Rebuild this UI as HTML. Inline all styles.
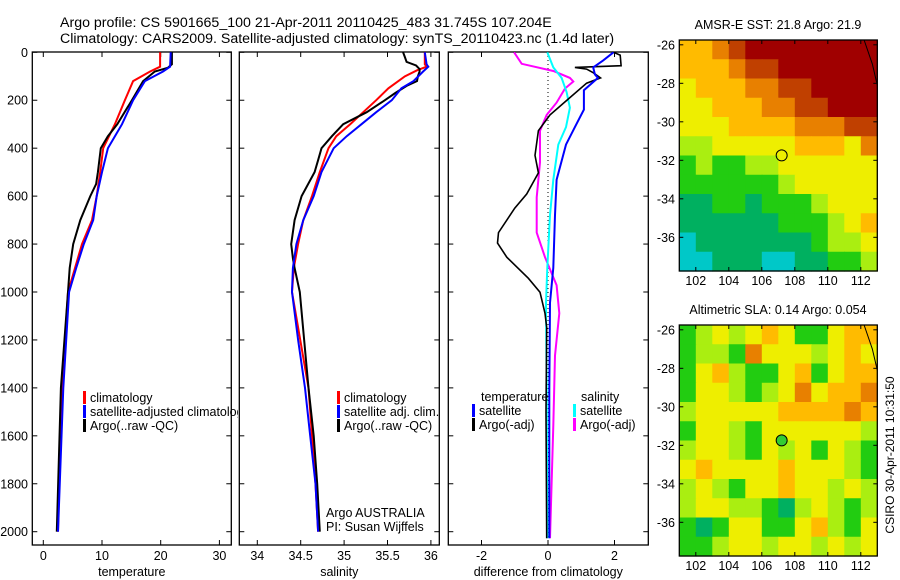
<!DOCTYPE html>
<html><head><meta charset="utf-8"><style>
html,body{margin:0;padding:0;background:#fff}
svg{display:block;font-family:"Liberation Sans",sans-serif}
</style></head><body>
<svg id="fig" width="900" height="580" viewBox="0 0 900 580" xmlns="http://www.w3.org/2000/svg">
<defs>
<clipPath id="c1"><rect x="32" y="52" width="206" height="494"/></clipPath>
<clipPath id="c2"><rect x="239" y="52" width="201" height="494"/></clipPath>
<clipPath id="c3"><rect x="448" y="52" width="201" height="494"/></clipPath>
</defs>
<text x="60" y="27" font-size="14.2">Argo profile: CS 5901665_100 21-Apr-2011 20110425_483 31.745S 107.204E</text>
<text x="60" y="43" font-size="14.2">Climatology: CARS2009. Satellite-adjusted climatology: synTS_20110423.nc (1.4d later)</text>
<g id="g1"></g>
<g id="g2"></g>
<g id="g3"></g>
<g id="m1"></g>
<g id="m2"></g>
<text transform="translate(894,455) rotate(-90)" font-size="12" text-anchor="middle">CSIRO 30-Apr-2011 10:31:50</text>
</svg>
<script>
// ---- Temperature profiles ----
const tClimDepth = [0,60,80,120,200,300,400,500,600,700,800,900,1000,1200,1400,1600,1800,2000];
const tClimVal   = [19.9,19.9,18.2,15.3,13.9,12.2,10.2,9.7,9.1,8.3,6.6,5.4,4.2,3.7,3.2,3.0,2.7,2.5];
const tSatDepth  = [0,60,80,120,200,300,400,500,600,700,800,900,1000,1400,2000];
const tSatVal    = [21.7,21.6,20.4,17.3,15.3,13.4,11.0,10.0,9.1,8.5,6.9,5.6,4.4,3.4,2.5];
const tArgoDepth = [0,50,65,80,120,200,300,350,400,500,550,600,700,800,900,1000,1400,2000];
const tArgoVal   = [21.9,21.9,21.2,19.0,17.0,15.1,12.6,11.0,9.8,9.3,9.0,8.0,6.3,5.1,4.5,4.2,3.0,2.3];
// ---- Salinity profiles ----
const sClimDepth = [0,50,60,75,100,150,200,250,300,350,400,500,600,700,800,900,1000,1400,1600,1800,2000];
const sClimVal   = [35.93,35.93,35.95,35.84,35.70,35.51,35.37,35.22,35.07,34.91,34.82,34.72,34.63,34.53,34.47,34.42,34.40,34.59,34.63,34.67,34.70];
const sSatDepth  = [0,50,60,80,120,150,200,250,300,350,400,500,600,700,800,900,1000,1200,1400,1600,1800,2000];
const sSatVal    = [35.93,35.95,35.97,35.91,35.80,35.66,35.55,35.37,35.20,35.03,34.88,34.74,34.65,34.53,34.45,34.41,34.40,34.47,34.55,34.61,34.67,34.70];
const sArgoDepth = [0,20,40,55,70,80,100,120,140,170,200,250,300,350,400,450,500,600,700,800,860,900,1000,1400,1600,1800,2000];
const sArgoVal   = [35.68,35.70,35.72,35.83,35.87,35.87,35.85,35.84,35.72,35.59,35.47,35.26,34.99,34.86,34.74,34.70,34.66,34.51,34.43,34.39,34.41,34.43,34.49,34.59,34.65,34.69,34.72];
// ---- Differences ----
const dTSatDepth = [0,34,63,92,107,158,239,312,385,532,679,899,1045,1412,2027];
const dTSatVal   = [1.97,1.66,1.36,1.41,1.5,1.08,1.08,0.81,0.54,0.26,0.21,0.16,0.06,0.04,0.04];
const dTArgoDepth = [0,12,56,63,70,85,107,129,195,261,327,430,503,591,650,752,796,855,943,1001,1089,1148,1500,2027];
const dTArgoVal   = [1.97,2.17,2.2,0.81,1.16,1.36,1.58,1.16,0.61,0.06,-0.29,-0.39,-0.29,-0.64,-1.0,-1.49,-1.52,-1.24,-0.59,-0.24,-0.09,-0.04,-0.06,-0.04];
const dSSatDepth = [0,63,107,166,231,312,385,532,679,899,1045,1412,2027];
const dSSatVal   = [-0.02,0.16,0.41,0.56,0.66,0.54,0.31,0.16,0.06,-0.02,-0.06,-0.04,-0.02];
const dSArgoDepth = [0,48,78,107,122,151,210,261,327,459,605,752,855,972,1089,1265,1558,2027];
const dSArgoVal   = [-1.02,-0.79,0.16,0.66,0.76,0.51,0.26,-0.04,-0.24,-0.24,-0.34,-0.34,-0.09,0.26,0.34,0.21,0.16,0.06];
// ---- Axis ticks ----
const depthTicks = [0,200,400,600,800,1000,1200,1400,1600,1800,2000];
const tempTicks = [0,10,20,30];
const salTicks = [34,34.5,35,35.5,36];
const salTickLabels = ["34","34.5","35","35.5","36"];
const diffTicks = [-2,0,2];
const lonTicks = [102,104,106,108,110,112];
const latTicks = [-26,-28,-30,-32,-34,-36];
// ---- Map grids (rows north->south, cols west->east), colour index 0..9 ----
const sstGrid = [
"667899999999","666788999999","566677889999","556667788999",
"555666677788","445555566657","343344555555","333333455555",
"223323334555","222222333456","122222223445","112221122334"];
const slaGrid = [
"345456533566","344375554565","356433563566","355434575667",
"455555666676","355435555554","455435453543","565555655543",
"454355655454","455443245434","323553356435","334554554545"];
const palette = ["#1e8cff","#00c8c8","#00b060","#22cc11","#aaee11","#eeee00","#ffbb00","#e88000","#c04000","#a00000"];
const sstTitle = "AMSR-E SST: 21.8 Argo: 21.9";
const slaTitle = "Altimetric SLA: 0.14 Argo: 0.054";
const argoLon = 107.204, argoLat = -31.745;

const NS = "http://www.w3.org/2000/svg";
function mk(parent, tag, attrs, txt){const e=document.createElementNS(NS,tag);for(const k in attrs)e.setAttribute(k,attrs[k]);if(txt!==undefined)e.textContent=txt;parent.appendChild(e);return e;}
const Y0=52.3, YS=0.2397, BOT=545;
const yD = d => Y0 + d*YS;
const xT = v => 43.3 + v*5.87;
const xS = v => 257.3 + (v-34)*86.8;
const xDf = v => 548 + v*33.25;

function frame(g,x0,x1,xticks,xfun,labels,title,leftLabels,name){
  const r=mk(g,'rect',{x:x0,y:52,width:x1-x0,height:BOT-52,fill:'none',stroke:'#000','stroke-width':1.3});
  
  
  depthTicks.forEach(d=>{
    mk(g,'line',{x1:x0,x2:x0+5,y1:yD(d),y2:yD(d),stroke:'#000'});
    mk(g,'line',{x1:x1-5,x2:x1,y1:yD(d),y2:yD(d),stroke:'#000'});
    if(leftLabels){const t=mk(g,'text',{x:28,y:yD(d)+4.5,'font-size':12.5,'text-anchor':'end'},String(d));
      
      }
  });
  xticks.forEach((v,i)=>{
    const x=xfun(v);
    mk(g,'line',{x1:x,x2:x,y1:BOT,y2:BOT-5,stroke:'#000'});
    mk(g,'line',{x1:x,x2:x,y1:52,y2:57,stroke:'#000'});
    const t=mk(g,'text',{x:x,y:560,'font-size':12.5,'text-anchor':'middle'},labels[i]);
    
    
  });
  const tt=mk(g,'text',{x:(x0+x1)/2,y:576,'font-size':12.5,'text-anchor':'middle'},title);
  
  
}
function line(g,depths,vals,xfun,color,w,name,clip){
  const pts=depths.map((d,i)=>xfun(vals[i]).toFixed(1)+','+yD(d).toFixed(1)).join(' ');
  const p=mk(g,'polyline',{points:pts,fill:'none',stroke:color,'stroke-width':w,'clip-path':'url(#'+clip+')'});
  
  
}
function legend(g,x,y,color,label,name,clip){
  mk(g,'rect',{x:x,y:y-11,width:3,height:13,fill:color});
  const t=mk(g,'text',{x:x+7,y:y,'font-size':12.5,'clip-path':'url(#'+clip+')'},label);
  
  
}
// Panel 1
const g1=document.getElementById('g1');
frame(g1,32.3,231.3,tempTicks,xT,tempTicks.map(String),'temperature',true,'temperature');
line(g1,tClimDepth,tClimVal,xT,'#f00',2,'temp-climatology-line','c1');
line(g1,tArgoDepth,tArgoVal,xT,'#000',2,'temp-argo-line','c1');
line(g1,tSatDepth,tSatVal,xT,'#00f',2,'temp-satellite-line','c1');
legend(g1,83,402,'#f00','climatology','legend-climatology','c1');
legend(g1,83,416,'#00f','satellite-adjusted climatology','legend-satellite-adjusted','c1');
legend(g1,83,430,'#000','Argo(..raw -QC)','legend-argo','c1');
// Panel 2
const g2=document.getElementById('g2');
frame(g2,239.3,439.3,salTicks,xS,salTickLabels,'salinity',false,'salinity');
line(g2,sClimDepth,sClimVal,xS,'#f00',2,'sal-climatology-line','c2');
line(g2,sArgoDepth,sArgoVal,xS,'#000',2,'sal-argo-line','c2');
line(g2,sSatDepth,sSatVal,xS,'#00f',2,'sal-satellite-line','c2');
legend(g2,337,402,'#f00','climatology','legend-climatology','c2');
legend(g2,337,416,'#00f','satellite adj. clim.','legend-satellite-adj','c2');
legend(g2,337,430,'#000','Argo(..raw -QC)','legend-argo','c2');
const a1=mk(g2,'text',{x:326,y:517,'font-size':12.5},'Argo AUSTRALIA');


const a2=mk(g2,'text',{x:326,y:531,'font-size':12.5},'PI: Susan Wijffels');


// Panel 3
const g3=document.getElementById('g3');
frame(g3,448.3,648.3,diffTicks,xDf,diffTicks.map(String),'difference from climatology',false,'difference');
mk(g3,'line',{x1:xDf(0),x2:xDf(0),y1:52,y2:BOT,stroke:'#000','stroke-dasharray':'1,3'});
line(g3,dSArgoDepth,dSArgoVal,xDf,'#f0f',2,'diff-sal-argo-line','c3');
line(g3,dSSatDepth,dSSatVal,xDf,'#0ff',2,'diff-sal-satellite-line','c3');
line(g3,dTArgoDepth,dTArgoVal,xDf,'#000',1.6,'diff-temp-argo-line','c3');
line(g3,dTSatDepth,dTSatVal,xDf,'#00f',2,'diff-temp-satellite-line','c3');
const lt=mk(g3,'text',{x:481,y:401,'font-size':12.5},'temperature');


const ls=mk(g3,'text',{x:581,y:401,'font-size':12.5},'salinity');


legend(g3,472,415,'#00f','satellite','legend-temp-satellite','c3');
legend(g3,472,429,'#000','Argo(-adj)','legend-temp-argo','c3');
legend(g3,573,415,'#0ff','satellite','legend-sal-satellite','c3');
legend(g3,573,429,'#f0f','Argo(-adj)','legend-sal-argo','c3');

// Maps
function drawMap(g,top,grid,title,filled){
  const L=679.3,R=877.3,B=top+231,lon0=101,lat0=-25.75;
  const px=lon=>L+(lon-lon0)*16.5, py=lat=>top+(lat0-lat)*19.25;
  const rows=grid.length, cols=grid[0].length, cw=(R-L)/cols, ch=(B-top)/rows;
  for(let r=0;r<rows;r++)for(let c=0;c<cols;c++){
    const cell=mk(g,'rect',{x:(L+c*cw).toFixed(2),y:(top+r*ch).toFixed(2),width:(cw+0.6).toFixed(2),height:(ch+0.6).toFixed(2),fill:palette[+grid[r][c]]});
    
    
  }
  mk(g,'polyline',{points:`${px(112.2)},${top} ${px(112.7)},${py(-27)} ${R},${py(-28.1)}`,fill:'none',stroke:'#000','stroke-width':1});
  mk(g,'rect',{x:L,y:top,width:R-L,height:B-top,fill:'none',stroke:'#000','stroke-width':1.3});
  lonTicks.forEach(v=>{const x=px(v);
    mk(g,'line',{x1:x,x2:x,y1:B,y2:B-4,stroke:'#000'});mk(g,'line',{x1:x,x2:x,y1:top,y2:top+4,stroke:'#000'});
    const t=mk(g,'text',{x:x,y:B+14,'font-size':12.5,'text-anchor':'middle'},String(v));
    
    });
  latTicks.forEach(v=>{const y=py(v);
    mk(g,'line',{x1:L,x2:L+4,y1:y,y2:y,stroke:'#000'});mk(g,'line',{x1:R-4,x2:R,y1:y,y2:y,stroke:'#000'});
    const t=mk(g,'text',{x:675,y:y+4.5,'font-size':12.5,'text-anchor':'end'},String(v));
    
    });
  const tt=mk(g,'text',{x:778,y:top-11,'font-size':12.5,'text-anchor':'middle'},title);
  
  
  const m=mk(g,'circle',{cx:px(argoLon),cy:py(argoLat),r:5.5,fill:filled?'#33cc33':'none',stroke:'#000','stroke-width':1});
  
  
}
drawMap(document.getElementById('m1'),40,sstGrid,sstTitle,false);
drawMap(document.getElementById('m2'),325,slaGrid,slaTitle,true);
</script>
</body></html>
